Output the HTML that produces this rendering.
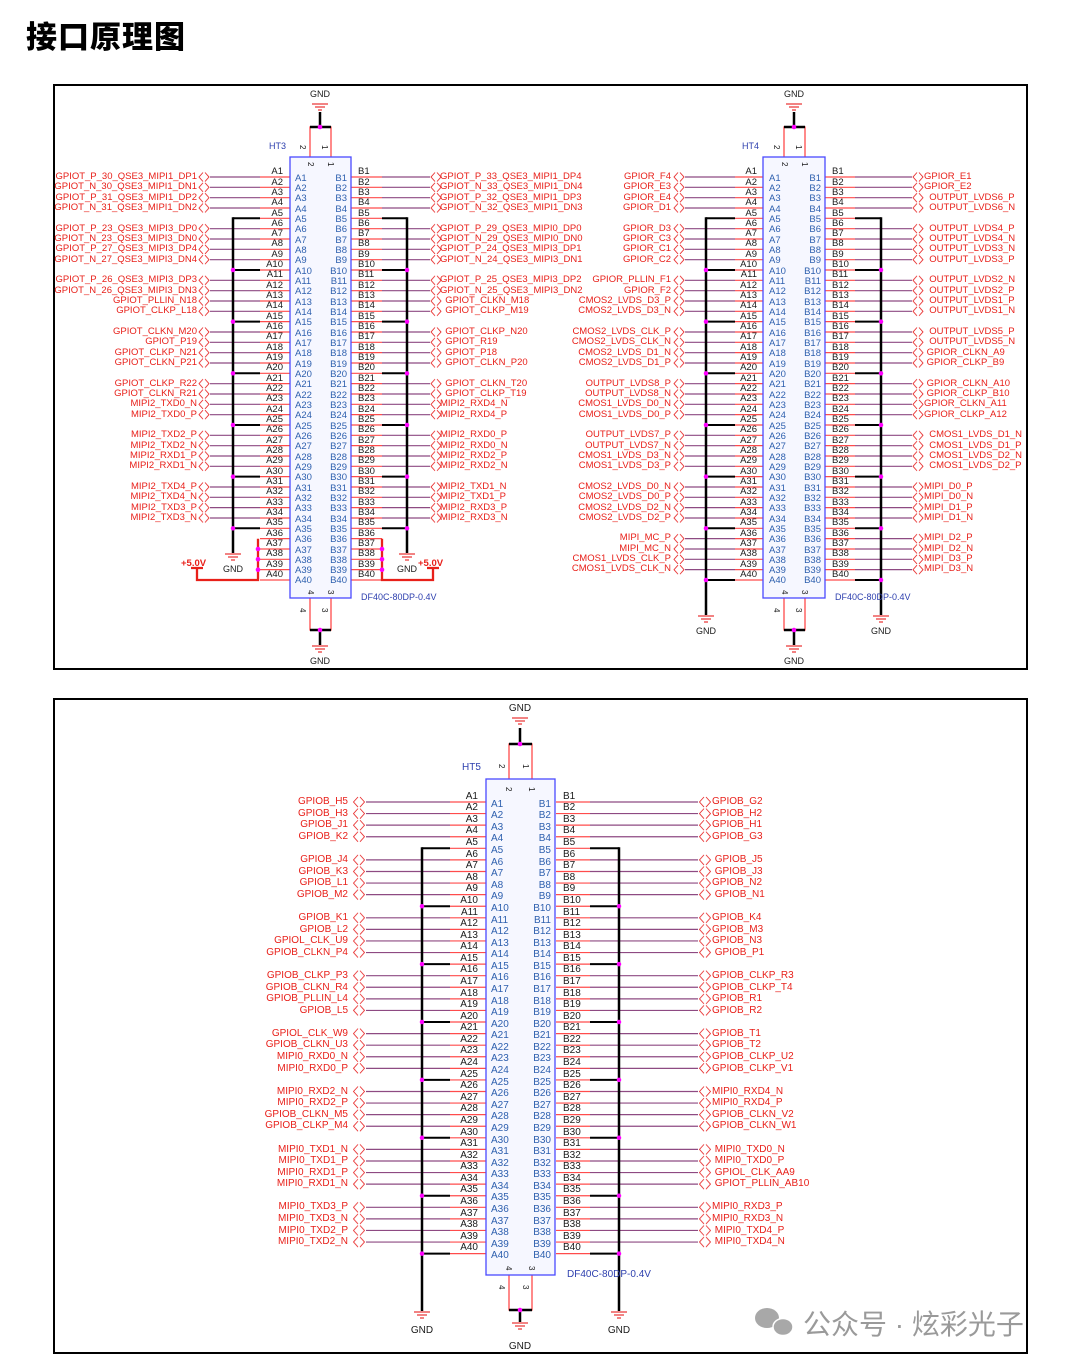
<!DOCTYPE html>
<html><head><meta charset="utf-8">
<style>
html,body{margin:0;padding:0;background:#fff;}
#w{position:relative;width:1080px;height:1366px;overflow:hidden;background:#fff;}
svg{position:absolute;left:0;top:0;}
.t{position:absolute;white-space:pre;font-family:"Liberation Sans",Arial,sans-serif;font-size:9.5px;line-height:10.333px;margin:0;}
.b{font-size:10px;line-height:11.58px;}
.k{color:#1a1a1a;}
.u{color:#2d5fae;}
.r{color:#e8201a;}
.R{text-align:right;}
.ttl{position:absolute;left:26px;top:12px;font-family:"Liberation Sans","Noto Sans CJK SC",sans-serif;font-weight:900;font-size:31px;color:#000;letter-spacing:1px;}
.wm{position:absolute;left:803px;top:1303px;font-family:"Liberation Sans","Noto Sans CJK SC",sans-serif;font-size:28px;color:#9a9a9a;}
</style></head><body><div id="w">
<svg width="1080" height="1366" viewBox="0 0 1080 1366" xmlns="http://www.w3.org/2000/svg">
<defs>
<g id="c3" fill="none" stroke="#e83030" stroke-width="0.9">
<path d="M5,0.5L1,5L5,9.5M7,0.5L11,5L7,9.5"/>
<path d="M5,10.8L1,15.3L5,19.8M7,10.8L11,15.3L7,19.8"/>
<path d="M5,21.2L1,25.7L5,30.2M7,21.2L11,25.7L7,30.2"/>
<path d="M5,31.5L1,36L5,40.5M7,31.5L11,36L7,40.5"/>
</g>
<g id="c5" fill="none" stroke="#e83030" stroke-width="0.9">
<path d="M6,0.5L1.5,5.5L6,10.5M8,0.5L12.5,5.5L8,10.5"/>
<path d="M6,12.1L1.5,17.1L6,22.1M8,12.1L12.5,17.1L8,22.1"/>
<path d="M6,23.7L1.5,28.7L6,33.7M8,23.7L12.5,28.7L8,33.7"/>
<path d="M6,35.2L1.5,40.2L6,45.2M8,35.2L12.5,40.2L8,45.2"/>
</g>
<pattern id="p1" patternUnits="userSpaceOnUse" x="198" y="172" width="12" height="51.667"><use href="#c3"/></pattern>
<pattern id="p2" patternUnits="userSpaceOnUse" x="430" y="172" width="12" height="51.667"><use href="#c3"/></pattern>
<pattern id="p3" patternUnits="userSpaceOnUse" x="673" y="172" width="12" height="51.667"><use href="#c3"/></pattern>
<pattern id="p4" patternUnits="userSpaceOnUse" x="912" y="172" width="12" height="51.667"><use href="#c3"/></pattern>
<pattern id="p5" patternUnits="userSpaceOnUse" x="352" y="796.5" width="14" height="57.9"><use href="#c5"/></pattern>
<pattern id="p6" patternUnits="userSpaceOnUse" x="698" y="796.5" width="14" height="57.9"><use href="#c5"/></pattern>
<g id="gs" stroke="#e83030" stroke-width="1.2"><line x1="-8" y1="0" x2="8" y2="0"/><line x1="-5" y1="3" x2="5" y2="3"/><line x1="-2" y1="6" x2="2" y2="6"/></g>
</defs>
<rect x="54" y="85" width="973" height="584" fill="none" stroke="#000" stroke-width="2"/>
<rect x="54" y="699" width="973" height="654" fill="none" stroke="#000" stroke-width="2"/>

<g>
<line x1="235" y1="176.4" x2="235" y2="530" stroke="#8e4a82" stroke-width="50" stroke-dasharray="1.2 9.133 1.2 9.133 1.2 9.133 1.2 19.467"/>
<line x1="275" y1="176.4" x2="275" y2="580.6" stroke="#ff4c4c" stroke-width="30" stroke-dasharray="1.2 9.133"/>
<line x1="406" y1="176.4" x2="406" y2="530" stroke="#8e4a82" stroke-width="48" stroke-dasharray="1.2 9.133 1.2 9.133 1.2 9.133 1.2 19.467"/>
<line x1="366.5" y1="176.4" x2="366.5" y2="580.6" stroke="#ff4c4c" stroke-width="31" stroke-dasharray="1.2 9.133"/>
<rect x="198" y="172" width="12" height="351" fill="url(#p1)"/>
<rect x="430" y="172" width="12" height="351" fill="url(#p2)"/>
<line x1="246.5" y1="217.3" x2="246.5" y2="530" stroke="#000" stroke-width="27" stroke-dasharray="2 49.667"/>
<line x1="394.5" y1="217.3" x2="394.5" y2="530" stroke="#000" stroke-width="25" stroke-dasharray="2 49.667"/>
<line x1="233" y1="217.3" x2="233" y2="553" stroke="#000" stroke-width="2.5"/>
<line x1="407" y1="217.3" x2="407" y2="553" stroke="#000" stroke-width="2.5"/>
<line x1="233" y1="270" x2="233" y2="530" stroke="#f0f" stroke-width="4.5" stroke-linecap="round" stroke-dasharray="0 51.667"/>
<line x1="407" y1="270" x2="407" y2="530" stroke="#f0f" stroke-width="4.5" stroke-linecap="round" stroke-dasharray="0 51.667"/>
<use href="#gs" x="233" y="554"/><use href="#gs" x="407" y="554"/>
<path d="M258,538.7V580H197V568M191,568H203" fill="none" stroke="#e8201a" stroke-width="2.3"/>
<path d="M382,538.7V580H433V568M427,568H439" fill="none" stroke="#e8201a" stroke-width="2.3"/>
<g fill="#f0f"><circle cx="258" cy="549" r="2.3"/><circle cx="258" cy="559.3" r="2.3"/><circle cx="258" cy="569.7" r="2.3"/><circle cx="382" cy="549" r="2.3"/><circle cx="382" cy="559.3" r="2.3"/><circle cx="382" cy="569.7" r="2.3"/></g>
<path d="M310,157V127H331V157M310,598V630H331V598" fill="none" stroke="#ff4c4c" stroke-width="1.3"/>
<path d="M310,127H331M320,127V112M310,630H331M320,630V645" stroke="#000" stroke-width="2.5"/>
<circle cx="320" cy="127" r="2.3" fill="#f0f"/><circle cx="320" cy="630" r="2.3" fill="#f0f"/>
<use href="#gs" x="320" y="104"/><use href="#gs" x="320" y="646"/>
<rect x="290" y="157" width="61" height="441" fill="#f6f7ff" stroke="#4a4aff" stroke-width="1.3"/>
</g>

<g>
<line x1="710" y1="176.4" x2="710" y2="571.5" stroke="#8e4a82" stroke-width="50" stroke-dasharray="1.2 9.133 1.2 9.133 1.2 9.133 1.2 19.467"/>
<line x1="749" y1="176.4" x2="749" y2="580.6" stroke="#ff4c4c" stroke-width="28" stroke-dasharray="1.2 9.133"/>
<line x1="883.5" y1="176.4" x2="883.5" y2="571.5" stroke="#8e4a82" stroke-width="57" stroke-dasharray="1.2 9.133 1.2 9.133 1.2 9.133 1.2 19.467"/>
<line x1="840" y1="176.4" x2="840" y2="580.6" stroke="#ff4c4c" stroke-width="30" stroke-dasharray="1.2 9.133"/>
<rect x="673" y="172" width="12" height="403" fill="url(#p3)"/>
<rect x="912" y="172" width="12" height="403" fill="url(#p4)"/>
<line x1="720.5" y1="217.3" x2="720.5" y2="582" stroke="#000" stroke-width="29" stroke-dasharray="2 49.667"/>
<line x1="868" y1="217.3" x2="868" y2="582" stroke="#000" stroke-width="26" stroke-dasharray="2 49.667"/>
<line x1="706" y1="217.3" x2="706" y2="615" stroke="#000" stroke-width="2.5"/>
<line x1="881" y1="217.3" x2="881" y2="615" stroke="#000" stroke-width="2.5"/>
<line x1="706" y1="270" x2="706" y2="582" stroke="#f0f" stroke-width="4.5" stroke-linecap="round" stroke-dasharray="0 51.667"/>
<line x1="881" y1="270" x2="881" y2="582" stroke="#f0f" stroke-width="4.5" stroke-linecap="round" stroke-dasharray="0 51.667"/>
<use href="#gs" x="706" y="616"/><use href="#gs" x="881" y="616"/>
<path d="M784,157V127H805V157M784,598V630H805V598" fill="none" stroke="#ff4c4c" stroke-width="1.3"/>
<path d="M784,127H805M794,127V112M784,630H805M794,630V645" stroke="#000" stroke-width="2.5"/>
<circle cx="794" cy="127" r="2.3" fill="#f0f"/><circle cx="794" cy="630" r="2.3" fill="#f0f"/>
<use href="#gs" x="794" y="104"/><use href="#gs" x="794" y="646"/>
<rect x="763" y="157" width="62" height="441" fill="#f6f7ff" stroke="#4a4aff" stroke-width="1.3"/>
</g>

<g>
<line x1="408" y1="801.4" x2="408" y2="1244" stroke="#8e4a82" stroke-width="84" stroke-dasharray="1.2 10.38 1.2 10.38 1.2 10.38 1.2 21.96"/>
<line x1="468" y1="801.4" x2="468" y2="1255" stroke="#ff4c4c" stroke-width="36" stroke-dasharray="1.2 10.38"/>
<line x1="644" y1="801.4" x2="644" y2="1244" stroke="#8e4a82" stroke-width="108" stroke-dasharray="1.2 10.38 1.2 10.38 1.2 10.38 1.2 21.96"/>
<line x1="573" y1="801.4" x2="573" y2="1255" stroke="#ff4c4c" stroke-width="34" stroke-dasharray="1.2 10.38"/>
<rect x="352" y="796.5" width="14" height="452" fill="url(#p5)"/>
<rect x="698" y="796.5" width="14" height="452" fill="url(#p6)"/>
<line x1="436" y1="847.3" x2="436" y2="1256" stroke="#000" stroke-width="28" stroke-dasharray="2 55.9"/>
<line x1="604.5" y1="847.3" x2="604.5" y2="1256" stroke="#000" stroke-width="29" stroke-dasharray="2 55.9"/>
<line x1="422" y1="847.3" x2="422" y2="1311" stroke="#000" stroke-width="2.5"/>
<line x1="619" y1="847.3" x2="619" y2="1311" stroke="#000" stroke-width="2.5"/>
<line x1="422" y1="906.2" x2="422" y2="1256" stroke="#f0f" stroke-width="4.5" stroke-linecap="round" stroke-dasharray="0 57.9"/>
<line x1="619" y1="906.2" x2="619" y2="1256" stroke="#f0f" stroke-width="4.5" stroke-linecap="round" stroke-dasharray="0 57.9"/>
<use href="#gs" x="422" y="1312"/><use href="#gs" x="619" y="1312"/>
<path d="M509,779V744H532V779M509,1275V1310H532V1275" fill="none" stroke="#ff4c4c" stroke-width="1.3"/>
<path d="M509,744H532M520,744V728M509,1310H532M520,1310V1322" stroke="#000" stroke-width="2.5"/>
<circle cx="520" cy="744" r="2.3" fill="#f0f"/><circle cx="520" cy="1310" r="2.3" fill="#f0f"/>
<use href="#gs" x="520" y="718"/><use href="#gs" x="520" y="1323"/>
<rect x="486" y="779" width="69" height="496" fill="#f6f7ff" stroke="#4a4aff" stroke-width="1.3"/>
</g>

<g font-family="Liberation Sans, Arial, sans-serif" font-size="9" fill="#1a1a1a" text-anchor="middle">
<text x="320" y="97">GND</text><text x="320" y="664">GND</text>
<text x="233" y="572">GND</text><text x="407" y="572">GND</text>
<text x="794" y="97">GND</text><text x="794" y="664">GND</text>
<text x="706" y="634">GND</text><text x="881" y="634">GND</text>
<text x="520" y="711" font-size="10">GND</text><text x="520" y="1349" font-size="10">GND</text>
<text x="422" y="1333" font-size="10">GND</text><text x="619" y="1333" font-size="10">GND</text>
</g>
<g font-family="Liberation Sans, Arial, sans-serif" font-size="9.5" font-weight="bold" fill="#e8201a">
<text x="181" y="566">+5.0V</text><text x="418" y="566">+5.0V</text>
</g>
<g font-family="Liberation Sans, Arial, sans-serif" font-size="9" fill="#2d3fae">
<text x="269" y="149">HT3</text><text x="742" y="149">HT4</text>
<text x="361" y="600">DF40C-80DP-0.4V</text><text x="835" y="600">DF40C-80DP-0.4V</text>
<text x="462" y="770" font-size="10">HT5</text><text x="567" y="1277" font-size="10">DF40C-80DP-0.4V</text>
</g>
<g font-family="Liberation Sans, Arial, sans-serif" font-size="8" fill="#1a1a1a">
<text transform="translate(300,145) rotate(90)">2</text><text transform="translate(322,145) rotate(90)">1</text>
<text transform="translate(308,162) rotate(90)">2</text><text transform="translate(328,162) rotate(90)">1</text>
<text transform="translate(308,590) rotate(90)">4</text><text transform="translate(328,590) rotate(90)">3</text>
<text transform="translate(300,608) rotate(90)">4</text><text transform="translate(322,608) rotate(90)">3</text>
<text transform="translate(774,145) rotate(90)">2</text><text transform="translate(796,145) rotate(90)">1</text>
<text transform="translate(782,162) rotate(90)">2</text><text transform="translate(802,162) rotate(90)">1</text>
<text transform="translate(782,590) rotate(90)">4</text><text transform="translate(802,590) rotate(90)">3</text>
<text transform="translate(774,608) rotate(90)">4</text><text transform="translate(796,608) rotate(90)">3</text>
<text transform="translate(499,764) rotate(90)">2</text><text transform="translate(523,764) rotate(90)">1</text>
<text transform="translate(506,787) rotate(90)">2</text><text transform="translate(529,787) rotate(90)">1</text>
<text transform="translate(506,1266) rotate(90)">4</text><text transform="translate(529,1266) rotate(90)">3</text>
<text transform="translate(499,1285) rotate(90)">4</text><text transform="translate(523,1285) rotate(90)">3</text>
</g>
<g fill="#a8a8a8"><ellipse cx="767" cy="1318" rx="12" ry="10"/><ellipse cx="783" cy="1327" rx="10" ry="8.5" stroke="#fff" stroke-width="1.5"/></g>
</svg>

<div class="ttl">接口原理图</div>
<div class="wm">公众号 · 炫彩光子</div>

<div class="t k R" style="left:253px;top:167.2px;width:30px">A1
A2
A3
A4
A5
A6
A7
A8
A9
A10
A11
A12
A13
A14
A15
A16
A17
A18
A19
A20
A21
A22
A23
A24
A25
A26
A27
A28
A29
A30
A31
A32
A33
A34
A35
A36
A37
A38
A39
A40</div>
<div class="t u" style="left:295px;top:173.7px">A1
A2
A3
A4
A5
A6
A7
A8
A9
A10
A11
A12
A13
A14
A15
A16
A17
A18
A19
A20
A21
A22
A23
A24
A25
A26
A27
A28
A29
A30
A31
A32
A33
A34
A35
A36
A37
A38
A39
A40</div>
<div class="t u R" style="left:317px;top:173.7px;width:30px">B1
B2
B3
B4
B5
B6
B7
B8
B9
B10
B11
B12
B13
B14
B15
B16
B17
B18
B19
B20
B21
B22
B23
B24
B25
B26
B27
B28
B29
B30
B31
B32
B33
B34
B35
B36
B37
B38
B39
B40</div>
<div class="t k" style="left:358px;top:167.2px">B1
B2
B3
B4
B5
B6
B7
B8
B9
B10
B11
B12
B13
B14
B15
B16
B17
B18
B19
B20
B21
B22
B23
B24
B25
B26
B27
B28
B29
B30
B31
B32
B33
B34
B35
B36
B37
B38
B39
B40</div>
<div class="t r R" style="left:37px;top:172px;width:160px">GPIOT_P_30_QSE3_MIPI1_DP1
GPIOT_N_30_QSE3_MIPI1_DN1
GPIOT_P_31_QSE3_MIPI1_DP2
GPIOT_N_31_QSE3_MIPI1_DN2

GPIOT_P_23_QSE3_MIPI3_DP0
GPIOT_N_23_QSE3_MIPI3_DN0
GPIOT_P_27_QSE3_MIPI3_DP4
GPIOT_N_27_QSE3_MIPI3_DN4

GPIOT_P_26_QSE3_MIPI3_DP3
GPIOT_N_26_QSE3_MIPI3_DN3
GPIOT_PLLIN_N18
GPIOT_CLKP_L18

GPIOT_CLKN_M20
GPIOT_P19
GPIOT_CLKP_N21
GPIOT_CLKN_P21

GPIOT_CLKP_R22
GPIOT_CLKN_R21
MIPI2_TXD0_N
MIPI2_TXD0_P

MIPI2_TXD2_P
MIPI2_TXD2_N
MIPI2_RXD1_P
MIPI2_RXD1_N

MIPI2_TXD4_P
MIPI2_TXD4_N
MIPI2_TXD3_P
MIPI2_TXD3_N</div>
<div class="t r" style="left:440px;top:172px">GPIOT_P_33_QSE3_MIPI1_DP4
GPIOT_N_33_QSE3_MIPI1_DN4
GPIOT_P_32_QSE3_MIPI1_DP3
GPIOT_N_32_QSE3_MIPI1_DN3

GPIOT_P_29_QSE3_MIPI0_DP0
GPIOT_N_29_QSE3_MIPI0_DN0
GPIOT_P_24_QSE3_MIPI3_DP1
GPIOT_N_24_QSE3_MIPI3_DN1

GPIOT_P_25_QSE3_MIPI3_DP2
GPIOT_N_25_QSE3_MIPI3_DN2
  GPIOT_CLKN_M18
  GPIOT_CLKP_M19

  GPIOT_CLKP_N20
  GPIOT_R19
  GPIOT_P18
  GPIOT_CLKN_P20

  GPIOT_CLKN_T20
  GPIOT_CLKP_T19
MIPI2_RXD4_N
MIPI2_RXD4_P

MIPI2_RXD0_P
MIPI2_RXD0_N
MIPI2_RXD2_P
MIPI2_RXD2_N

MIPI2_TXD1_N
MIPI2_TXD1_P
MIPI2_RXD3_P
MIPI2_RXD3_N</div>

<div class="t k R" style="left:727px;top:167.2px;width:30px">A1
A2
A3
A4
A5
A6
A7
A8
A9
A10
A11
A12
A13
A14
A15
A16
A17
A18
A19
A20
A21
A22
A23
A24
A25
A26
A27
A28
A29
A30
A31
A32
A33
A34
A35
A36
A37
A38
A39
A40</div>
<div class="t u" style="left:769px;top:173.7px">A1
A2
A3
A4
A5
A6
A7
A8
A9
A10
A11
A12
A13
A14
A15
A16
A17
A18
A19
A20
A21
A22
A23
A24
A25
A26
A27
A28
A29
A30
A31
A32
A33
A34
A35
A36
A37
A38
A39
A40</div>
<div class="t u R" style="left:791px;top:173.7px;width:30px">B1
B2
B3
B4
B5
B6
B7
B8
B9
B10
B11
B12
B13
B14
B15
B16
B17
B18
B19
B20
B21
B22
B23
B24
B25
B26
B27
B28
B29
B30
B31
B32
B33
B34
B35
B36
B37
B38
B39
B40</div>
<div class="t k" style="left:832px;top:167.2px">B1
B2
B3
B4
B5
B6
B7
B8
B9
B10
B11
B12
B13
B14
B15
B16
B17
B18
B19
B20
B21
B22
B23
B24
B25
B26
B27
B28
B29
B30
B31
B32
B33
B34
B35
B36
B37
B38
B39
B40</div>
<div class="t r R" style="left:511px;top:172px;width:160px">GPIOR_F4
GPIOR_E3
GPIOR_E4
GPIOR_D1

GPIOR_D3
GPIOR_C3
GPIOR_C1
GPIOR_C2

GPIOR_PLLIN_F1
GPIOR_F2
CMOS2_LVDS_D3_P
CMOS2_LVDS_D3_N

CMOS2_LVDS_CLK_P
CMOS2_LVDS_CLK_N
CMOS2_LVDS_D1_N
CMOS2_LVDS_D1_P

OUTPUT_LVDS8_P
OUTPUT_LVDS8_N
CMOS1_LVDS_D0_N
CMOS1_LVDS_D0_P

OUTPUT_LVDS7_P
OUTPUT_LVDS7_N
CMOS1_LVDS_D3_N
CMOS1_LVDS_D3_P

CMOS2_LVDS_D0_N
CMOS2_LVDS_D0_P
CMOS2_LVDS_D2_N
CMOS2_LVDS_D2_P

MIPI_MC_P
MIPI_MC_N
CMOS1_LVDS_CLK_P
CMOS1_LVDS_CLK_N</div>
<div class="t r" style="left:924px;top:172px">GPIOR_E1
GPIOR_E2
  OUTPUT_LVDS6_P
  OUTPUT_LVDS6_N

  OUTPUT_LVDS4_P
  OUTPUT_LVDS4_N
  OUTPUT_LVDS3_N
  OUTPUT_LVDS3_P

  OUTPUT_LVDS2_N
  OUTPUT_LVDS2_P
  OUTPUT_LVDS1_P
  OUTPUT_LVDS1_N

  OUTPUT_LVDS5_P
  OUTPUT_LVDS5_N
 GPIOR_CLKN_A9
 GPIOR_CLKP_B9

 GPIOR_CLKN_A10
 GPIOR_CLKP_B10
GPIOR_CLKN_A11
GPIOR_CLKP_A12

  CMOS1_LVDS_D1_N
  CMOS1_LVDS_D1_P
  CMOS1_LVDS_D2_N
  CMOS1_LVDS_D2_P

MIPI_D0_P
MIPI_D0_N
MIPI_D1_P
MIPI_D1_N

MIPI_D2_P
MIPI_D2_N
MIPI_D3_P
MIPI_D3_N</div>

<div class="t b k R" style="left:448px;top:790.75px;width:30px">A1
A2
A3
A4
A5
A6
A7
A8
A9
A10
A11
A12
A13
A14
A15
A16
A17
A18
A19
A20
A21
A22
A23
A24
A25
A26
A27
A28
A29
A30
A31
A32
A33
A34
A35
A36
A37
A38
A39
A40</div>
<div class="t b u" style="left:491px;top:798.75px">A1
A2
A3
A4
A5
A6
A7
A8
A9
A10
A11
A12
A13
A14
A15
A16
A17
A18
A19
A20
A21
A22
A23
A24
A25
A26
A27
A28
A29
A30
A31
A32
A33
A34
A35
A36
A37
A38
A39
A40</div>
<div class="t b u R" style="left:521px;top:798.75px;width:30px">B1
B2
B3
B4
B5
B6
B7
B8
B9
B10
B11
B12
B13
B14
B15
B16
B17
B18
B19
B20
B21
B22
B23
B24
B25
B26
B27
B28
B29
B30
B31
B32
B33
B34
B35
B36
B37
B38
B39
B40</div>
<div class="t b k" style="left:563px;top:790.75px">B1
B2
B3
B4
B5
B6
B7
B8
B9
B10
B11
B12
B13
B14
B15
B16
B17
B18
B19
B20
B21
B22
B23
B24
B25
B26
B27
B28
B29
B30
B31
B32
B33
B34
B35
B36
B37
B38
B39
B40</div>
<div class="t b r R" style="left:148px;top:796.25px;width:200px">GPIOB_H5
GPIOB_H3
GPIOB_J1
GPIOB_K2

GPIOB_J4
GPIOB_K3
GPIOB_L1
GPIOB_M2

GPIOB_K1
GPIOB_L2
GPIOL_CLK_U9
GPIOB_CLKN_P4

GPIOB_CLKP_P3
GPIOB_CLKN_R4
GPIOB_PLLIN_L4
GPIOB_L5

GPIOL_CLK_W9
GPIOB_CLKN_U3
MIPI0_RXD0_N
MIPI0_RXD0_P

MIPI0_RXD2_N
MIPI0_RXD2_P
GPIOB_CLKN_M5
GPIOB_CLKP_M4

MIPI0_TXD1_N
MIPI0_TXD1_P
MIPI0_RXD1_P
MIPI0_RXD1_N

MIPI0_TXD3_P
MIPI0_TXD3_N
MIPI0_TXD2_P
MIPI0_TXD2_N</div>
<div class="t b r" style="left:712px;top:796.25px">GPIOB_G2
GPIOB_H2
GPIOB_H1
GPIOB_G3

 GPIOB_J5
 GPIOB_J3
GPIOB_N2
 GPIOB_N1

GPIOB_K4
GPIOB_M3
GPIOB_N3
 GPIOB_P1

GPIOB_CLKP_R3
GPIOB_CLKP_T4
GPIOB_R1
GPIOB_R2

GPIOB_T1
GPIOB_T2
GPIOB_CLKP_U2
GPIOB_CLKP_V1

MIPI0_RXD4_N
MIPI0_RXD4_P
GPIOB_CLKN_V2
GPIOB_CLKN_W1

 MIPI0_TXD0_N
 MIPI0_TXD0_P
 GPIOL_CLK_AA9
 GPIOT_PLLIN_AB10

MIPI0_RXD3_P
MIPI0_RXD3_N
 MIPI0_TXD4_P
 MIPI0_TXD4_N</div>
</div></body></html>
